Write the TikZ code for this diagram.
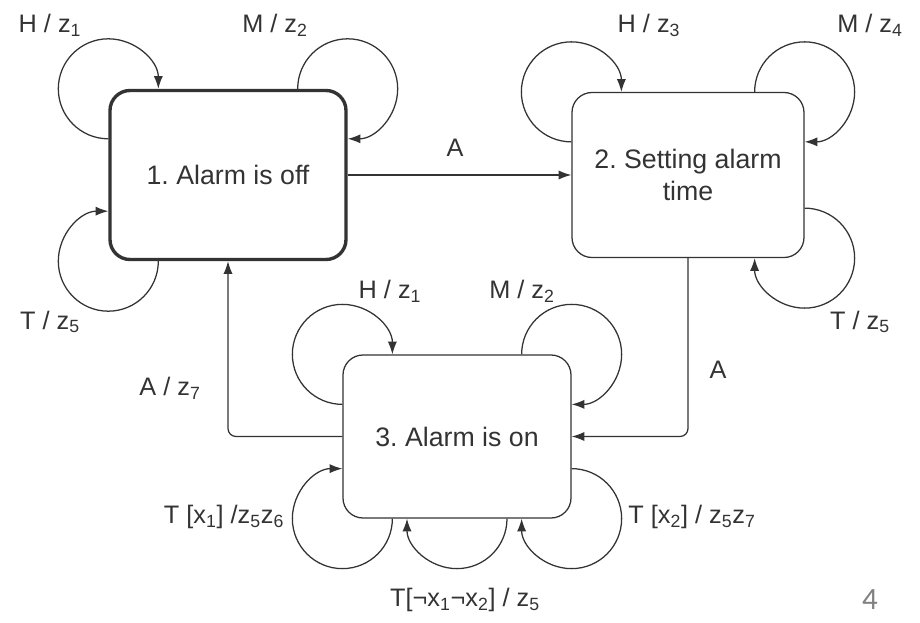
\documentclass[tikz,border=0pt]{standalone}
\usepackage{fontspec}
\setmainfont{Liberation Sans}
\newfontfamily\slidefont{Carlito}
\usetikzlibrary{arrows.meta,positioning,calc}
\definecolor{ink}{HTML}{333333}
\tikzset{every picture/.style={line width=0.9pt}}
\tikzset{
  state/.style={draw=ink, rounded corners=0.5cm, align=center, text=ink,
    font=\fontsize{19}{23}\selectfont},
  lbl/.style={text=ink, inner sep=1pt, font=\fontsize{18}{21}\selectfont},
}
\newcommand{\zz}[1]{z\textsubscript{#1}}
\newcommand{\looprad}{1.25}
\frenchspacing

\begin{document}
\begin{tikzpicture}[>={Latex[length=3.2mm,width=2.3mm]}, color=ink]
    \useasboundingbox (0,0) rectangle (23,15.55);

    % states
    \node[state, line width=2.4pt, minimum width=5.9cm, minimum height=4.225cm] (s1) at (5.7,11.175) {1. Alarm is off};
    \node[state, minimum width=5.8cm, minimum height=4.125cm] (s2) at (17.2,11.175) {2. Setting alarm\\time};
    \node[state, minimum width=5.7cm, minimum height=4.075cm] (s3) at (11.425,4.6375) {3. Alarm is on};

    % transitions between states
    \draw[->] (s1.east) -- (s2.west);
    \draw[->, rounded corners=0.2cm] (s2.south) |- (s3.east);
    \draw[->, rounded corners=0.2cm] (s3.west) -| (s1.south);
    \node[lbl] (a12) at (11.375,11.85) {A};
    \node[lbl] (a23) at (17.95,6.3) {A};
    \node[lbl] (a31) at (4.25,5.85) {A / \zz{7}};

    % self loops at the upper corners
    \foreach \s in {s1,s2,s3} {
        \draw[->] ([yshift=-\looprad cm]\s.north west) arc[start angle=270, end angle=0, radius=\looprad];
        \draw[->] ([xshift=-\looprad cm]\s.north east) arc[start angle=180, end angle=-90, radius=\looprad];
    }

    % self loops below
    \draw[->] ([xshift=\looprad cm]s1.south west) arc[start angle=0, end angle=-270, radius=\looprad];
    \draw[->] ([yshift=\looprad cm]s2.south east) arc[start angle=90, end angle=-180, radius=\looprad];
    \draw[->] ([xshift=\looprad cm]s3.south west) arc[start angle=0, end angle=-270, radius=\looprad];
    \draw[->] ([xshift=\looprad cm]s3.south) arc[start angle=0, end angle=-180, radius=\looprad];
    \draw[->] ([yshift=\looprad cm]s3.south east) arc[start angle=90, end angle=-180, radius=\looprad];

    % loop labels
    \node[lbl] (h1) at (1.25,14.925) {H / \zz{1}};
    \node[lbl] (m1) at (6.875,14.925) {M / \zz{2}};
    \node[lbl] (t1) at (1.25,7.5) {T / \zz{5}};
    \node[lbl] (h2) at (16.225,14.925) {H / \zz{3}};
    \node[lbl] (m2) at (21.75,14.925) {M / \zz{4}};
    \node[lbl] (t2) at (21.5,7.5) {T / \zz{5}};
    \node[lbl] (h3) at (9.75,8.275) {H / \zz{1}};
    \node[lbl] (m3) at (13.05,8.275) {M / \zz{2}};
    \node[lbl] (tx1) at (5.6,2.625) {T [x\textsubscript{1}] /\zz{5}\zz{6}};
    \node[lbl] (tx2) at (17.3,2.625) {T [x\textsubscript{2}] / \zz{5}\zz{7}};
    \node[lbl] (tnx) at (11.625,0.55) {T[¬x\textsubscript{1}¬x\textsubscript{2}] / \zz{5}};

    % page number
    \node[text=gray, font=\slidefont\fontsize{22}{26}\selectfont] (pg) at (21.75,0.55) {4};
\end{tikzpicture}
\end{document}
